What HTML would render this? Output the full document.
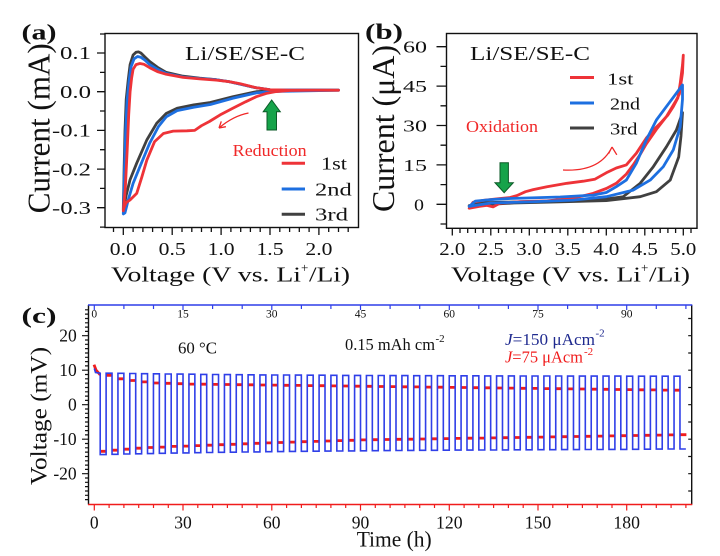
<!DOCTYPE html>
<html><head><meta charset="utf-8"><style>
html,body{margin:0;padding:0;background:#fff;}
svg{display:block;}
text{font-family:"Liberation Serif","DejaVu Serif",serif;fill:#111;}
</style></head><body>
<svg width="720" height="556" viewBox="0 0 720 556" xmlns="http://www.w3.org/2000/svg">
<rect width="720" height="556" fill="#fff"/>

<!-- ================= PANEL A ================= -->
<g fill="none" stroke-linejoin="round" stroke-linecap="round" stroke-width="2.8">
<polyline stroke="#404040" points="338.5,90.2 279.8,90.5 256.3,91.7 232.8,96.7 210.3,102.5 193.7,104.9 177.1,108.3 166.3,113.4 156.6,123.4 146.8,140.0 136.7,163.2 130.0,179.9 126.0,196.1 124.0,206.6 123.3,209.7 124.1,169.1 125.0,130.4 126.2,99.4 128.2,80.1 130.1,64.6 133.1,55.0 136.0,52.3 138.5,51.9 140.9,53.0 144.8,56.9 149.7,61.5 157.5,67.3 166.3,72.4 183.0,76.2 199.6,78.2 216.2,79.7 228.9,81.6 239.7,84.0 256.3,87.8 270.0,89.8 338.5,90.2"/>
<polyline stroke="#1d6fe0" points="338.5,90.2 279.8,91.3 265.1,92.1 256.3,92.9 232.8,98.3 210.3,104.5 193.7,107.2 177.1,110.6 166.3,116.8 158.5,126.5 149.7,143.1 139.9,166.7 133.1,183.4 128.2,200.0 125.0,212.8 123.3,213.9 124.5,169.1 125.7,130.4 127.2,99.4 129.2,80.1 131.1,66.6 134.1,58.8 137.5,56.5 140.9,57.3 144.8,60.0 149.7,64.6 157.5,69.3 166.3,73.5 183.0,77.0 199.6,78.5 216.2,79.7 228.9,81.6 239.7,84.0 256.3,87.8 270.0,89.8 338.5,90.2"/>
<polyline stroke="#ee3338" points="338.5,90.2 309.1,90.2 289.6,90.5 274.9,91.7 267.1,93.2 256.3,96.7 245.6,101.8 232.8,108.3 220.1,114.9 209.4,121.5 201.5,125.7 194.7,130.4 186.9,130.8 173.2,131.1 163.4,133.5 154.6,141.6 146.8,160.2 141.9,176.8 136.7,193.4 130.0,200.0 126.0,202.7 124.0,207.7 123.3,210.8 125.3,188.4 127.2,149.7 128.7,114.9 130.1,91.7 131.6,78.2 133.1,69.3 136.0,64.6 139.9,63.5 143.8,64.2 149.7,67.7 157.5,71.6 166.3,74.3 183.0,77.4 199.6,78.9 216.2,80.1 228.9,81.6 239.7,83.6 256.3,87.8 270.0,89.8 289.6,90.2 338.5,90.2"/>
</g>
<rect x="105" y="33.5" width="253.5" height="194" fill="none" stroke="#111" stroke-width="1.4"/>
<path stroke="#111" stroke-width="1.3" fill="none" d="M97,53H105M97,91.7H105M97,130.4H105M97,169.1H105M97,207.7H105
M100,72.4H105M100,111H105M100,149.7H105M100,188.4H105M100,227.1H105M100,34H105
M123.3,227.5V235M172.2,227.5V235M221.1,227.5V235M270,227.5V235M318.9,227.5V235
M113.5,227.5V232M133.1,227.5V232M142.9,227.5V232M152.6,227.5V232M162.4,227.5V232M182,227.5V232M191.8,227.5V232M201.5,227.5V232M211.3,227.5V232M230.9,227.5V232M240.7,227.5V232M250.4,227.5V232M260.2,227.5V232M279.8,227.5V232M289.6,227.5V232M299.3,227.5V232M309.1,227.5V232M328.7,227.5V232M338.5,227.5V232M348.2,227.5V232"/>
<g font-size="17.5" text-anchor="end">
<text x="91" y="59.2" textLength="31" lengthAdjust="spacingAndGlyphs">0.1</text>
<text x="91" y="97.9" textLength="31" lengthAdjust="spacingAndGlyphs">0.0</text>
<text x="91" y="136.6" textLength="39" lengthAdjust="spacingAndGlyphs">-0.1</text>
<text x="91" y="175.3" textLength="39" lengthAdjust="spacingAndGlyphs">-0.2</text>
<text x="91" y="213.9" textLength="39" lengthAdjust="spacingAndGlyphs">-0.3</text>
</g>
<g font-size="18" text-anchor="middle">
<text x="123.3" y="255" textLength="27" lengthAdjust="spacingAndGlyphs">0.0</text>
<text x="172.2" y="255" textLength="27" lengthAdjust="spacingAndGlyphs">0.5</text>
<text x="221.1" y="255" textLength="27" lengthAdjust="spacingAndGlyphs">1.0</text>
<text x="270" y="255" textLength="27" lengthAdjust="spacingAndGlyphs">1.5</text>
<text x="318.9" y="255" textLength="27" lengthAdjust="spacingAndGlyphs">2.0</text>
</g>
<text x="111" y="281.7" font-size="21" textLength="190" lengthAdjust="spacingAndGlyphs">Voltage (V vs. Li</text>
<text x="301" y="272" font-size="13">+</text>
<text x="309" y="281.7" font-size="21" textLength="41" lengthAdjust="spacingAndGlyphs">/Li)</text>
<text transform="translate(49.5,128.3) rotate(-90) scale(1,1.2)" font-size="26" text-anchor="middle" textLength="170" lengthAdjust="spacingAndGlyphs">Current (mA)</text>
<text x="21.5" y="39.5" font-size="22" font-weight="bold" textLength="35" lengthAdjust="spacingAndGlyphs">(a)</text>
<text x="185" y="60" font-size="20" textLength="120" lengthAdjust="spacingAndGlyphs">Li/SE/SE-C</text>
<text x="232.7" y="156" font-size="17" style="fill:#f02828" textLength="74" lengthAdjust="spacingAndGlyphs">Reduction</text>
<g stroke-width="3" stroke-linecap="butt">
<line x1="281.7" y1="163.3" x2="305" y2="163.3" stroke="#ee3338"/>
<line x1="281.7" y1="189" x2="305" y2="189" stroke="#1d6fe0"/>
<line x1="281.7" y1="214.3" x2="305" y2="214.3" stroke="#404040"/>
</g>
<g font-size="18">
<text x="321" y="169.6" textLength="26" lengthAdjust="spacingAndGlyphs">1st</text>
<text x="315" y="195.3" textLength="36.7" lengthAdjust="spacingAndGlyphs">2nd</text>
<text x="315" y="220.6" textLength="33" lengthAdjust="spacingAndGlyphs">3rd</text>
</g>
<polygon points="271.7,100 280.3,111.7 276.5,111.7 276.5,130 267,130 267,111.7 263.2,111.7" fill="#16a34a" stroke="#0b5a27" stroke-width="1"/>
<path d="M248.5,113 Q233,116 219,128 M219,128 l6.9,-1.3 M219,128 l2.3,-6.6" fill="none" stroke="#f02828" stroke-width="1.3"/>

<!-- ================= PANEL B ================= -->
<g fill="none" stroke-linejoin="round" stroke-linecap="round" stroke-width="2.8">
<polyline stroke="#404040" points="469.2,205.6 483.1,202.7 529.3,201.7 575.5,200.4 606.3,199.0 623.2,196.7 640.2,183.3 653.3,166.7 666.4,146.8 676.4,130.0 682.5,112.6 681.0,136.0 678.7,157.0 676.4,163.3 670.2,180.1 656.4,191.7 640.2,196.7 606.3,200.6 560.1,201.9 513.9,203.0 469.2,205.6"/>
<polyline stroke="#ee3338" points="469.2,208.2 473.1,202.2 483.1,200.4 500.0,198.5 510.1,197.5 516.8,195.6 525.5,191.7 533.2,189.6 547.0,186.7 567.0,183.3 583.2,181.2 594.7,179.3 606.3,172.8 616.3,168.0 626.3,164.9 636.3,153.3 646.3,138.1 654.0,129.4 660.2,123.4 667.9,115.0 673.3,106.6 677.9,97.9 680.2,83.5 682.5,65.1 683.3,55.1 682.5,72.9 679.4,94.0 676.4,100.0 666.4,116.6 656.4,129.4 646.3,143.9 640.2,154.4 633.2,164.9 626.3,174.1 616.3,183.3 606.3,188.5 593.2,193.3 573.2,198.3 547.0,200.9 520.1,201.7 500.0,203.2 493.1,206.9 486.9,205.4 479.3,206.4 469.2,208.2"/>
<polyline stroke="#1d6fe0" points="469.2,206.4 475.4,201.1 490.8,199.6 510.1,198.5 560.1,197.0 593.2,195.1 606.3,192.5 616.3,186.7 626.3,180.1 636.3,163.3 646.3,139.9 656.4,120.0 666.4,106.6 676.4,93.2 682.5,85.0 682.5,99.2 680.2,126.8 673.3,149.9 663.3,166.7 650.2,180.1 633.2,190.1 606.3,196.7 573.2,200.1 529.3,201.9 490.8,203.0 469.2,206.4"/>
</g>
<rect x="446.5" y="33.5" width="250.5" height="194.8" fill="none" stroke="#111" stroke-width="1.4"/>
<path stroke="#111" stroke-width="1.3" fill="none" d="M436.5,204.3H446.5M436.5,164.9H446.5M436.5,125.5H446.5M436.5,86.1H446.5M436.5,46.7H446.5
M440.5,224H446.5M440.5,184.6H446.5M440.5,145.2H446.5M440.5,105.8H446.5M440.5,66.4H446.5
M452.3,228.3V235.5M490.8,228.3V235.5M529.3,228.3V235.5M567.8,228.3V235.5M606.3,228.3V235.5M644.8,228.3V235.5M683.3,228.3V235.5
M460,228.3V233M467.7,228.3V233M475.4,228.3V233M483.1,228.3V233M498.5,228.3V233M506.2,228.3V233M513.9,228.3V233M521.6,228.3V233M537,228.3V233M544.7,228.3V233M552.4,228.3V233M560.1,228.3V233M575.5,228.3V233M583.2,228.3V233M590.9,228.3V233M598.6,228.3V233M614,228.3V233M621.7,228.3V233M629.4,228.3V233M637.1,228.3V233M652.5,228.3V233M660.2,228.3V233M667.9,228.3V233M675.6,228.3V233M691,228.3V233"/>
<g font-size="17" text-anchor="end">
<text x="427" y="52.7" textLength="24" lengthAdjust="spacingAndGlyphs">60</text>
<text x="427" y="92.1" textLength="24" lengthAdjust="spacingAndGlyphs">45</text>
<text x="427" y="131.5" textLength="24" lengthAdjust="spacingAndGlyphs">30</text>
<text x="427" y="170.9" textLength="24" lengthAdjust="spacingAndGlyphs">15</text>
<text x="424" y="210.3" textLength="10" lengthAdjust="spacingAndGlyphs">0</text>
</g>
<g font-size="18" text-anchor="middle">
<text x="452.3" y="255" textLength="26" lengthAdjust="spacingAndGlyphs">2.0</text>
<text x="490.8" y="255" textLength="26" lengthAdjust="spacingAndGlyphs">2.5</text>
<text x="529.3" y="255" textLength="26" lengthAdjust="spacingAndGlyphs">3.0</text>
<text x="567.8" y="255" textLength="26" lengthAdjust="spacingAndGlyphs">3.5</text>
<text x="606.3" y="255" textLength="26" lengthAdjust="spacingAndGlyphs">4.0</text>
<text x="644.8" y="255" textLength="26" lengthAdjust="spacingAndGlyphs">4.5</text>
<text x="683.3" y="255" textLength="26" lengthAdjust="spacingAndGlyphs">5.0</text>
</g>
<text x="451" y="281.7" font-size="21" textLength="190" lengthAdjust="spacingAndGlyphs">Voltage (V vs. Li</text>
<text x="641" y="272" font-size="13">+</text>
<text x="649" y="281.7" font-size="21" textLength="41" lengthAdjust="spacingAndGlyphs">/Li)</text>
<text transform="translate(394,128.5) rotate(-90) scale(1,1.2)" font-size="26" text-anchor="middle" textLength="167" lengthAdjust="spacingAndGlyphs">Current (μA)</text>
<text x="365" y="39" font-size="22" font-weight="bold" textLength="38" lengthAdjust="spacingAndGlyphs">(b)</text>
<text x="470" y="60" font-size="20" textLength="120" lengthAdjust="spacingAndGlyphs">Li/SE/SE-C</text>
<text x="466" y="132" font-size="17" style="fill:#f02828" textLength="72" lengthAdjust="spacingAndGlyphs">Oxidation</text>
<g stroke-width="3" stroke-linecap="butt">
<line x1="570" y1="77.5" x2="594" y2="77.5" stroke="#ee3338"/>
<line x1="570" y1="103" x2="594" y2="103" stroke="#1d6fe0"/>
<line x1="570" y1="128" x2="594" y2="128" stroke="#404040"/>
</g>
<g font-size="17">
<text x="607" y="84.3" textLength="26.5" lengthAdjust="spacingAndGlyphs">1st</text>
<text x="610" y="109.3" textLength="30" lengthAdjust="spacingAndGlyphs">2nd</text>
<text x="610" y="134.3" textLength="27.5" lengthAdjust="spacingAndGlyphs">3rd</text>
</g>
<polygon points="504.2,192.7 513.3,182.7 508.4,182.7 508.4,162.7 500,162.7 500,182.7 495,182.7" fill="#16a34a" stroke="#0b5a27" stroke-width="1"/>
<path d="M563,170 Q600,172 612,147 M612,147 l-3.4,6.6 M612,147 l4.8,7.8" fill="none" stroke="#f02828" stroke-width="1.3"/>

<!-- ================= PANEL C ================= -->
<path fill="none" stroke="#f01c1c" stroke-width="2.8" stroke-linecap="square" d="M94.5,366 L96,370 L99.3,373.8
M101.1,451.3h4.1
M107.0,375.4h4.1M112.95,450.2h4.1
M118.86,378.8h4.1M124.78,449.2h4.1
M130.7,380.5h4.1M136.62,448.2h4.1
M142.53,381.9h4.1M148.45,447.5h4.1
M154.36,383.0h4.1M160.28,447.1h4.1
M166.19,383.3h4.1M172.11,446.4h4.1
M178.02,383.7h4.1M183.94,446.1h4.1
M189.86,384.1h4.1M195.78,445.6h4.1
M201.69,384.2h4.1M207.61,445.2h4.1
M213.52,384.4h4.1M219.44,444.7h4.1
M225.35,384.5h4.1M231.27,444.3h4.1
M237.18,384.7h4.1M243.1,443.8h4.1
M249.02,384.8h4.1M254.94,443.3h4.1
M260.85,385.0h4.1M266.77,442.9h4.1
M272.68,385.1h4.1M278.6,442.5h4.1
M284.51,385.3h4.1M290.43,442.1h4.1
M296.34,385.4h4.1M302.26,441.7h4.1
M308.18,385.6h4.1M314.1,441.4h4.1
M320.01,385.7h4.1M325.93,441.0h4.1
M331.84,385.9h4.1M337.76,440.6h4.1
M343.67,386.0h4.1M349.59,440.3h4.1
M355.5,386.2h4.1M361.42,439.9h4.1
M367.34,386.3h4.1M373.26,439.7h4.1
M379.17,386.5h4.1M385.09,439.5h4.1
M391.0,386.6h4.1M396.92,439.3h4.1
M402.83,386.8h4.1M408.75,439.2h4.1
M414.66,386.9h4.1M420.58,439.0h4.1
M426.5,387.1h4.1M432.42,438.8h4.1
M438.33,387.2h4.1M444.25,438.6h4.1
M450.16,387.4h4.1M456.08,438.4h4.1
M461.99,387.5h4.1M467.91,438.2h4.1
M473.82,387.7h4.1M479.74,438.1h4.1
M485.66,387.8h4.1M491.58,437.9h4.1
M497.49,388.0h4.1M503.41,437.7h4.1
M509.32,388.1h4.1M515.24,437.5h4.1
M521.15,388.3h4.1M527.07,437.3h4.1
M532.98,388.4h4.1M538.9,437.1h4.1
M544.82,388.6h4.1M550.74,436.9h4.1
M556.65,388.7h4.1M562.57,436.7h4.1
M568.48,388.9h4.1M574.4,436.5h4.1
M580.31,389.0h4.1M586.23,436.3h4.1
M592.14,389.2h4.1M598.06,436.1h4.1
M603.98,389.3h4.1M609.9,435.9h4.1
M615.81,389.5h4.1M621.73,435.7h4.1
M627.64,389.6h4.1M633.56,435.5h4.1
M639.47,389.8h4.1M645.39,435.3h4.1
M651.3,389.9h4.1M657.22,435.1h4.1
M663.14,390.1h4.1M669.06,434.9h4.1
M674.97,390.2h4.1M680.89,434.7h4.1"/>
<path fill="none" stroke="#2f3fe8" stroke-width="1.6" stroke-linejoin="miter" d="M94.3,368.5 L95.5,372.5 L100.2,373.2 V454.6 h5.916 V373.2 h5.916 V454.3 h5.916 V373.3 h5.916 V454.0 h5.916 V373.5 h5.916 V453.8 h5.916 V373.7 h5.916 V453.6 h5.916 V373.8 h5.916 V453.3 h5.916 V374.0 h5.916 V453.1 h5.916 V374.1 h5.916 V452.9 h5.916 V374.2 h5.916 V452.7 h5.916 V374.4 h5.916 V452.5 h5.916 V374.5 h5.916 V452.3 h5.916 V374.6 h5.916 V452.2 h5.916 V374.7 h5.916 V452.0 h5.916 V374.8 h5.916 V451.9 h5.916 V374.9 h5.916 V451.7 h5.916 V375.0 h5.916 V451.6 h5.916 V375.0 h5.916 V451.4 h5.916 V375.1 h5.916 V451.3 h5.916 V375.2 h5.916 V451.2 h5.916 V375.2 h5.916 V451.1 h5.916 V375.3 h5.916 V451.0 h5.916 V375.4 h5.916 V450.9 h5.916 V375.4 h5.916 V450.8 h5.916 V375.5 h5.916 V450.7 h5.916 V375.5 h5.916 V450.6 h5.916 V375.6 h5.916 V450.5 h5.916 V375.6 h5.916 V450.4 h5.916 V375.7 h5.916 V450.3 h5.916 V375.7 h5.916 V450.3 h5.916 V375.7 h5.916 V450.2 h5.916 V375.8 h5.916 V450.1 h5.916 V375.8 h5.916 V450.1 h5.916 V375.8 h5.916 V450.0 h5.916 V375.9 h5.916 V450.0 h5.916 V375.9 h5.916 V449.9 h5.916 V375.9 h5.916 V449.8 h5.916 V376.0 h5.916 V449.8 h5.916 V376.0 h5.916 V449.7 h5.916 V376.0 h5.916 V449.7 h5.916 V376.0 h5.916 V449.6 h5.916 V376.1 h5.916 V449.6 h5.916 V376.1 h5.916 V449.5 h5.916 V376.1 h5.916 V449.5 h5.916 V376.1 h5.916 V449.4 h5.916 V376.1 h5.916 V449.4 h5.916 V376.2 h5.916 V449.3 h5.916 V376.2 h5.916 V449.2 h5.916 V376.2 h5.916 V449.1 h5.916 V376.2 h5.916 V449.0 h5.916 V376.2 h5.916 V449.0 h5.9"/>
<line x1="88.5" y1="305" x2="88.5" y2="504.5" stroke="#111" stroke-width="1.4"/>
<line x1="691.7" y1="305" x2="691.7" y2="504.5" stroke="#111" stroke-width="1.4"/>
<line x1="88" y1="305" x2="692.3" y2="305" stroke="#2f3fe8" stroke-width="1.5"/>
<line x1="88" y1="504.5" x2="692.3" y2="504.5" stroke="#f01c1c" stroke-width="1.5"/>
<path stroke="#111" stroke-width="1.2" fill="none" d="M82,335.7H88.5M82,370.2H88.5M82,404.7H88.5M82,439.2H88.5M82,473.7H88.5
M85,400.4H88.5M85,396.1H88.5M85,391.8H88.5M85,387.5H88.5M85,383.1H88.5M85,378.8H88.5M85,374.5H88.5M85,365.9H88.5M85,361.6H88.5M85,357.3H88.5M85,353H88.5M85,348.6H88.5M85,344.3H88.5M85,340H88.5M85,331.4H88.5M85,327.1H88.5M85,322.8H88.5M85,318.5H88.5M85,314.1H88.5M85,309.8H88.5
M85,409H88.5M85,413.3H88.5M85,417.6H88.5M85,422H88.5M85,426.3H88.5M85,430.6H88.5M85,434.9H88.5M85,443.5H88.5M85,447.8H88.5M85,452.1H88.5M85,456.5H88.5M85,460.8H88.5M85,465.1H88.5M85,469.4H88.5M85,478H88.5M85,482.3H88.5M85,486.6H88.5M85,491H88.5M85,495.3H88.5M85,499.6H88.5
M688.2,318.5H691.7M688.2,335.7H691.7M688.2,353H691.7M688.2,370.2H691.7M688.2,387.5H691.7M688.2,404.7H691.7M688.2,422H691.7M688.2,439.2H691.7M688.2,456.5H691.7M688.2,473.7H691.7M688.2,491H691.7"/>
<path stroke="#2f3fe8" stroke-width="1.2" fill="none" d="M94.3,305V310M123.9,305V309M153.5,305V309M183,305V310M212.6,305V309M242.2,305V309M271.8,305V310M301.4,305V309M330.9,305V309M360.5,305V310M390.1,305V309M419.7,305V309M449.3,305V310M478.8,305V309M508.4,305V309M538,305V310M567.6,305V309M597.2,305V309M626.7,305V310M656.3,305V309M685.9,305V309"/>
<path stroke="#f01c1c" stroke-width="1.2" fill="none" d="M94.3,504.5V510.5M183,504.5V510.5M271.8,504.5V510.5M360.5,504.5V510.5M449.3,504.5V510.5M538,504.5V510.5M626.7,504.5V510.5
M109.1,504.5V508M123.9,504.5V508M138.7,504.5V508M153.5,504.5V508M168.3,504.5V508M197.8,504.5V508M212.6,504.5V508M227.4,504.5V508M242.2,504.5V508M257,504.5V508M286.6,504.5V508M301.4,504.5V508M316.2,504.5V508M330.9,504.5V508M345.7,504.5V508M375.3,504.5V508M390.1,504.5V508M404.9,504.5V508M419.7,504.5V508M434.5,504.5V508M464.1,504.5V508M478.8,504.5V508M493.6,504.5V508M508.4,504.5V508M523.2,504.5V508M552.8,504.5V508M567.6,504.5V508M582.4,504.5V508M597.2,504.5V508M612,504.5V508M641.5,504.5V508M656.3,504.5V508M671.1,504.5V508M685.9,504.5V508"/>
<g font-size="17.5" text-anchor="end">
<text x="76.7" y="341.7">20</text>
<text x="76.7" y="376.2">10</text>
<text x="76.7" y="410.7">0</text>
<text x="76.7" y="445.2">-10</text>
<text x="76.7" y="479.7">-20</text>
</g>
<g font-size="17.5" text-anchor="middle">
<text x="94.3" y="528.3">0</text>
<text x="183" y="528.3">30</text>
<text x="271.8" y="528.3">60</text>
<text x="360.5" y="528.3">90</text>
<text x="449.3" y="528.3" textLength="26.5" lengthAdjust="spacingAndGlyphs">120</text>
<text x="538" y="528.3" textLength="26.5" lengthAdjust="spacingAndGlyphs">150</text>
<text x="626.7" y="528.3" textLength="26.5" lengthAdjust="spacingAndGlyphs">180</text>
</g>
<g font-size="11.5" text-anchor="middle">
<text x="94.3" y="317.5">0</text>
<text x="183" y="317.5">15</text>
<text x="271.8" y="317.5">30</text>
<text x="360.5" y="317.5">45</text>
<text x="449.3" y="317.5">60</text>
<text x="538" y="317.5">75</text>
<text x="626.7" y="317.5">90</text>
</g>
<text x="356.7" y="546.5" font-size="22" textLength="75" lengthAdjust="spacingAndGlyphs">Time (h)</text>
<text transform="translate(46.3,416) rotate(-90) scale(1,1.05)" font-size="22.5" text-anchor="middle" textLength="138" lengthAdjust="spacingAndGlyphs">Voltage (mV)</text>
<text x="21.5" y="323" font-size="22" font-weight="bold" textLength="35" lengthAdjust="spacingAndGlyphs">(c)</text>
<text x="178" y="353.5" font-size="17" textLength="39" lengthAdjust="spacingAndGlyphs">60 °C</text>
<text x="345" y="350" font-size="17" textLength="90" lengthAdjust="spacingAndGlyphs">0.15 mAh cm</text>
<text x="435.5" y="342" font-size="11">-2</text>
<text x="505" y="345" font-size="17" style="fill:#1f2a8f" textLength="90" lengthAdjust="spacingAndGlyphs"><tspan font-style="italic">J</tspan>=150 μAcm</text>
<text x="595.5" y="336.5" font-size="11" style="fill:#1f2a8f">-2</text>
<text x="505" y="362.7" font-size="17" style="fill:#f01c1c" textLength="78" lengthAdjust="spacingAndGlyphs"><tspan font-style="italic">J</tspan>=75 μAcm</text>
<text x="584" y="355" font-size="11" style="fill:#f01c1c">-2</text>
</svg>
</body></html>
